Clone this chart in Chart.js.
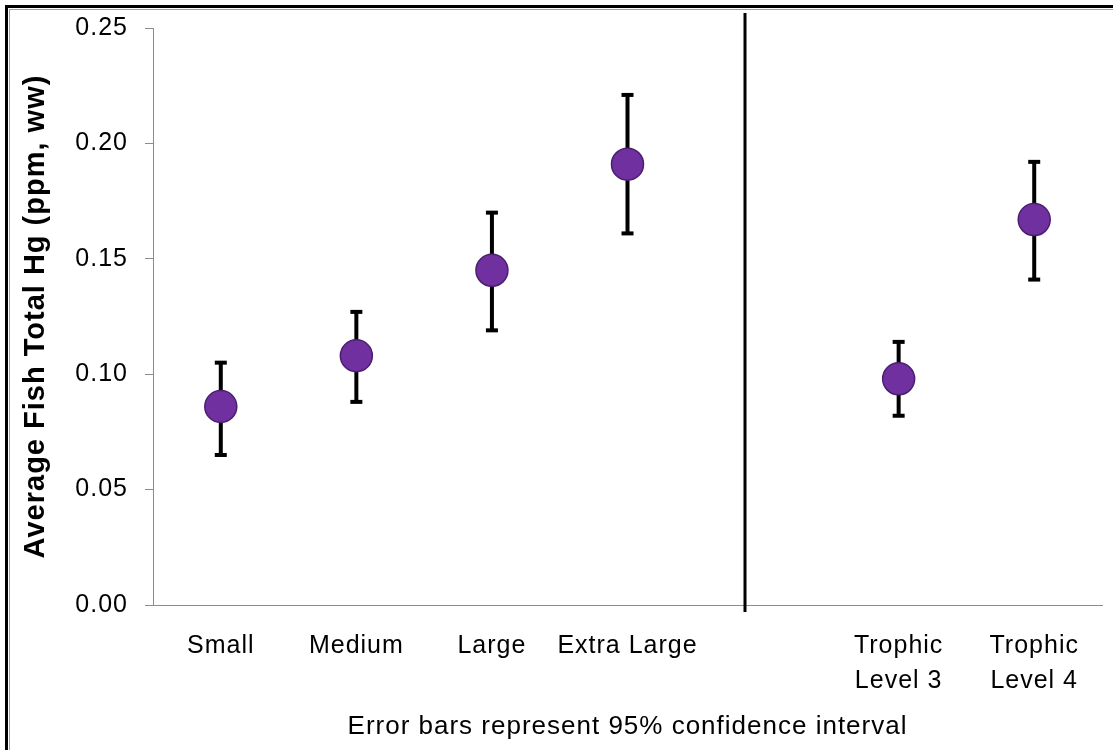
<!DOCTYPE html>
<html>
<head>
<meta charset="utf-8">
<script src="https://cdn.jsdelivr.net/npm/chart.js@4.4.1/dist/chart.umd.min.js"></script>
<style>
  html, body { margin: 0; padding: 0; background: #ffffff; }
  #wrap { width: 1113px; height: 750px; }
</style>
</head>
<body>
<div id="wrap"><canvas id="hg" width="1113" height="750"></canvas></div>
<script>
// Fish size classes and trophic levels (the empty slot separates the two groups)
const categories = ['Small', 'Medium', 'Large', 'Extra Large', '', ['Trophic', 'Level 3'], ['Trophic', 'Level 4']];
// Mean total Hg (ppm, wet weight)
const meanHg  = [0.086, 0.108, 0.145, 0.191, null, 0.098, 0.167];
// 95% confidence interval bounds
const ciLower = [0.065, 0.088, 0.119, 0.161, null, 0.082, 0.141];
const ciUpper = [0.105, 0.127, 0.170, 0.221, null, 0.114, 0.192];
// Y-axis tick values
const yTickValues = [0.00, 0.05, 0.10, 0.15, 0.20, 0.25];
// Position of the divider between size classes and trophic levels (category index units)
const dividerAt = 3.87;

const FONT = "'Liberation Sans', Arial, sans-serif";

// Slightly open letter spacing for all chart text
const spacingPlugin = {
  id: 'spacing',
  beforeUpdate(chart) { chart.ctx.letterSpacing = '1px'; },
  beforeDraw(chart) { chart.ctx.letterSpacing = '1px'; }
};

// Outer frame of the figure
const framePlugin = {
  id: 'frame',
  beforeDraw(chart) {
    const ctx = chart.ctx;
    ctx.save();
    ctx.fillStyle = '#ffffff';
    ctx.fillRect(0, 0, chart.width, chart.height);
    ctx.fillStyle = '#000000';
    ctx.fillRect(5, 5, 3, chart.height - 5);
    ctx.fillRect(5, 5, chart.width - 5, 3);
    ctx.fillStyle = '#a0a0a0';
    ctx.fillRect(9, 9, 1, chart.height - 9);
    ctx.fillRect(9, 9, chart.width - 9, 1);
    ctx.restore();
  }
};

// Confidence-interval whiskers drawn beneath the markers
const errorBarPlugin = {
  id: 'errorBars',
  beforeDatasetsDraw(chart) {
    const ctx = chart.ctx;
    const x = chart.scales.x, y = chart.scales.y;
    ctx.save();
    ctx.strokeStyle = '#000000';
    ctx.fillStyle = '#000000';
    ctx.lineWidth = 4;
    for (let i = 0; i < categories.length; i++) {
      if (meanHg[i] == null) continue;
      const px = x.getPixelForValue(i);
      const yLo = y.getPixelForValue(ciLower[i]);
      const yHi = y.getPixelForValue(ciUpper[i]);
      ctx.beginPath();
      ctx.moveTo(px, yLo);
      ctx.lineTo(px, yHi);
      ctx.stroke();
      ctx.fillRect(px - 6, yHi - 2, 12, 4);
      ctx.fillRect(px - 6, yLo - 2, 12, 4);
    }
    ctx.restore();
  }
};

// Vertical divider between the two groupings
const dividerPlugin = {
  id: 'divider',
  afterDraw(chart) {
    const ctx = chart.ctx;
    const area = chart.chartArea;
    const px = Math.round(chart.scales.x.getPixelForValue(dividerAt));
    ctx.save();
    ctx.strokeStyle = '#000000';
    ctx.lineWidth = 3;
    ctx.beginPath();
    ctx.moveTo(px, area.top - 15);
    ctx.lineTo(px, area.bottom + 7);
    ctx.stroke();
    ctx.restore();
  }
};

new Chart(document.getElementById('hg'), {
  type: 'line',
  data: {
    labels: categories,
    datasets: [{
      data: meanHg,
      showLine: false,
      pointRadius: 16,
      pointHoverRadius: 16,
      pointBackgroundColor: '#7030a0',
      pointBorderColor: '#4b1f6e',
      pointBorderWidth: 1.5,
      clip: false
    }]
  },
  plugins: [spacingPlugin, framePlugin, errorBarPlugin, dividerPlugin],
  options: {
    responsive: false,
    animation: false,
    layout: { autoPadding: false, padding: { top: 28, right: 11, bottom: 0, left: 0 } },
    plugins: {
      legend: { display: false },
      tooltip: { enabled: false }
    },
    scales: {
      x: {
        type: 'category',
        offset: true,
        grid: { display: false, drawTicks: false },
        border: { display: true, color: '#8c8c8c', width: 1 },
        ticks: {
          color: '#000000',
          font: { family: FONT, size: 25, lineHeight: 1.4 },
          padding: 24,
          maxRotation: 0,
          minRotation: 0,
          autoSkip: false
        },
        title: {
          display: true,
          text: 'Error bars represent 95% confidence interval',
          color: '#000000',
          font: { family: FONT, size: 26, lineHeight: 1.2 },
          padding: { top: 14, bottom: 8 }
        },
        afterFit(scale) { scale.height = 145; }
      },
      y: {
        min: 0,
        max: 0.25,
        afterBuildTicks(scale) { scale.ticks = yTickValues.map(v => ({ value: v })); },
        grid: {
          drawOnChartArea: false,
          drawTicks: true,
          tickLength: 8,
          color: '#8c8c8c'
        },
        border: { display: true, color: '#8c8c8c', width: 1 },
        ticks: {
          color: '#000000',
          font: { family: FONT, size: 25 },
          padding: 17,
          callback: v => Number(v).toFixed(2)
        },
        title: {
          display: true,
          text: 'Average Fish Total Hg (ppm, ww)',
          color: '#000000',
          font: { family: FONT, size: 29, weight: 'bold', lineHeight: 1.2 },
          padding: { top: 19, bottom: 0 }
        },
        afterFit(scale) {
          scale.width = 153;
          scale.paddingTop = 0;
          scale.paddingBottom = 0;
        }
      }
    }
  }
});
</script>
</body>
</html>
